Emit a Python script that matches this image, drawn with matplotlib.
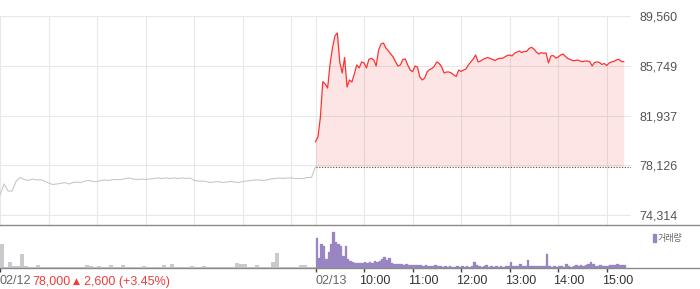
import matplotlib
matplotlib.use("Agg")
import matplotlib.pyplot as plt
from matplotlib.lines import Line2D
from matplotlib.patches import Rectangle
from matplotlib.transforms import blended_transform_factory, offset_copy
import numpy as np

plt.rcParams["font.family"] = ["Liberation Sans", "DejaVu Sans"]

# 02/12 session, 5-minute prices from 09:00 (last one is the 15:30 close)
prev_date = "02/12"
prev_times = list(range(0, 391, 5))
prev_prices = [
    75850, 76690, 76150, 76150, 76920, 77190, 77030, 76960, 77070, 77000,
    77030, 76920, 76770, 76650, 76690, 76730, 76800, 76690, 76800, 76840,
    76800, 76920, 76960, 76880, 76880, 76960, 77000, 76960, 77030, 77030,
    77030, 77110, 77150, 77070, 77030, 77070, 77030, 77070, 77110, 77150,
    77110, 77150, 77110, 77150, 77110, 77150, 77110, 77150, 76960, 76920,
    76920, 76880, 76800, 76840, 76880, 76800, 76840, 76880, 76840, 76800,
    76880, 76920, 76960, 77000, 77000, 76960, 77000, 77070, 77110, 77150,
    77110, 77150, 77150, 77110, 77110, 77110, 77190, 77190, 78000,
]
# volume per 5-minute bucket, thousand shares
prev_volumes = [
    240, 15, 60, 25, 25, 140, 25, 15, 15, 30,
    10, 15, 10, 15, 10, 15, 10, 15, 10, 10,
    15, 30, 25, 10, 25, 10, 15, 30, 10, 15,
    30, 10, 10, 15, 10, 25, 10, 15, 10, 10,
    30, 10, 40, 10, 15, 10, 10, 25, 10, 10,
    25, 10, 10, 10, 15, 10, 10, 15, 50, 40,
    40, 15, 10, 30, 10, 10, 15, 60, 150, 15,
    10, 10, 15, 10, 30, 35, 15, 15,
]

# 02/13 session, 3-minute prices from 09:00
today_date = "02/13"
today_times = list(range(0, 382, 3))
today_prices = [
    79930, 80290, 81770, 84530, 84350, 84040, 85880, 87110, 88030, 88260,
    86040, 85190, 86380, 84120, 84660, 84500, 85120, 85810, 85580, 86040,
    85960, 85580, 86240, 86320, 86190, 85730, 86960, 87410, 87490, 87110,
    86880, 86650, 86420, 86040, 85730, 85810, 86230, 86270, 85810, 85420,
    85290, 85730, 85650, 84890, 84660, 84810, 85270, 85460, 85540, 85730,
    86040, 85920, 85650, 85190, 85270, 85270, 85190, 85040, 84930, 85420,
    85310, 85420, 85500, 85810, 86040, 86270, 86570, 86040, 86110, 86230,
    86320, 86380, 86300, 86230, 86150, 86270, 86320, 86320, 86420, 86530,
    86570, 86500, 86700, 86800, 86880, 86760, 86840, 86840, 87070, 87160,
    87030, 86800, 86650, 86750, 86700, 86730, 85960, 86500, 86530, 86340,
    86420, 86570, 86650, 86460, 86300, 86230, 86140, 86150, 86190, 86110,
    86060, 86110, 86110, 86060, 85730, 86000, 86040, 86000, 85850, 85920,
    85770, 85960, 86040, 86080, 86190, 86240, 86080, 86060,
]
today_volumes = [
    300, 100, 240, 220, 90, 160, 240, 360, 260, 240,
    220, 120, 220, 90, 70, 60, 50, 55, 50, 55,
    60, 50, 60, 55, 70, 60, 70, 90, 110, 80,
    100, 50, 40, 45, 40, 40, 35, 40, 35, 35,
    30, 35, 30, 30, 25, 30, 20, 25, 20, 30,
    20, 20, 15, 20, 15, 20, 15, 15, 20, 15,
    20, 15, 20, 15, 20, 65, 35, 20, 15, 20,
    30, 15, 20, 15, 20, 15, 20, 15, 20, 25,
    65, 20, 25, 20, 45, 20, 25, 80, 25, 20,
    20, 25, 20, 20, 20, 140, 20, 15, 20, 15,
    25, 20, 15, 40, 20, 15, 20, 30, 25, 35,
    25, 30, 40, 60, 45, 25, 20, 30, 20, 25,
    20, 30, 35, 30, 40, 35, 35, 30,
]

base_price = 78000
change = 2600
change_pct = 3.45
price_ticks = [74314, 78126, 81937, 85749, 89560]
hour_labels = ["10:00", "11:00", "12:00", "13:00", "14:00", "15:00"]
session_len = 390  # minutes 09:00-15:30

RED = "#ff3030"
PURPLE = "#9a85c3"
GREY_LINE = "#c8c8c8"
GREY_BAR = "#c8cacd"

W, H = 700, 289


def fx(px):
    return px / W


def fy(py):
    return 1 - py / H


fig = plt.figure(figsize=(W / 100, H / 100), dpi=100)

# price panel
ax = fig.add_axes([0, fy(225), fx(631), (225 - 16) / H])
ax.set_xlim(0, 2 * session_len)
ax.set_ylim(73548, 89560)

grid_x = list(range(0, session_len, 60)) + [session_len + m for m in range(0, session_len, 60)]
ax.set_xticks(grid_x)
ax.set_yticks(price_ticks, [f"{v:,}" for v in price_ticks])
ax.grid(True, color="#e8e8e8", lw=0.8)
ax.set_axisbelow(True)
ax.tick_params(axis="x", length=0, labelbottom=False)
ax.tick_params(axis="y", length=0, labelleft=False, labelright=True,
               pad=5.8, labelsize=9, labelcolor="#555555")
for s in ax.spines.values():
    s.set_visible(False)

ax.plot(prev_times, prev_prices, color=GREY_LINE, lw=0.8)
today_x = session_len + np.array(today_times)
ax.fill_between(today_x, today_prices, base_price, color="#f03c3c", alpha=0.13, lw=0)
ax.plot(today_x, today_prices, color=RED, lw=0.9)
ax.hlines(base_price, session_len, 2 * session_len, colors="#555555",
          linestyles=(0, (1, 1.5)), lw=0.8)

# volume panel
axv = fig.add_axes([0, fy(268), fx(631), (268 - 226) / H])
axv.set_xlim(0, 2 * session_len)
axv.set_ylim(0, 420)
axv.bar(prev_times[:-1], prev_volumes, width=5, align="edge", color=GREY_BAR, lw=0)
axv.bar(session_len + np.array(today_times), today_volumes, width=3, align="edge",
        color=PURPLE, edgecolor=PURPLE, lw=0.2)
axv.set_yticks([])
hour_x = [session_len + 60 * (i + 1) for i in range(len(hour_labels))]
axv.set_xticks([0, session_len] + hour_x)
axv.tick_params(axis="x", direction="out", length=3, width=1, color="#444444",
                labelbottom=False)
for s in axv.spines.values():
    s.set_visible(False)

fig.add_artist(Line2D([0, 1], [fy(225), fy(225)], color="#8a8a8a", lw=1.0))
fig.add_artist(Line2D([0, 1], [fy(268), fy(268)], color="#8a8a8a", lw=1.0))

# bottom labels
trans = blended_transform_factory(axv.transData, fig.transFigure)
label_y = fy(281.5)
axv.text(0, label_y, prev_date, transform=trans, ha="left", va="center",
         color="#666666", fontsize=9)
axv.annotate(f"{base_price:,}", xy=(0, label_y), xycoords=trans, xytext=(32, 0),
             textcoords="offset pixels", ha="left", va="center", color="#f03c3c", fontsize=9)
axv.annotate("\u25b2", xy=(0, label_y), xycoords=trans, xytext=(73, 0),
             textcoords="offset pixels", ha="left", va="center", color="#f03c3c",
             fontsize=6.5, family=["DejaVu Sans"])
axv.annotate(f"{change:,} (+{change_pct:.2f}%)", xy=(0, label_y), xycoords=trans,
             xytext=(84, 0), textcoords="offset pixels", ha="left", va="center",
             color="#f03c3c", fontsize=9)
axv.text(session_len, label_y, today_date, transform=trans, ha="left", va="center",
         color="#666666", fontsize=9)
hour_trans = offset_copy(trans, fig=fig, x=-5, y=0, units="dots")
for x, lab in zip(hour_x, hour_labels):
    axv.text(x, label_y, lab, transform=hour_trans, ha="left", va="center",
             color="#333333", fontsize=9)

# legend
fig.add_artist(Rectangle((fx(653), fy(242)), 3 / W, 8 / H, color=PURPLE,
                         transform=fig.transFigure))
fig.text(fx(658), fy(238), "거래량", family=["Noto Sans CJK KR"], fontsize=6.5,
         color="#666666", va="center", ha="left")

fig.savefig("out.png", dpi=100)
